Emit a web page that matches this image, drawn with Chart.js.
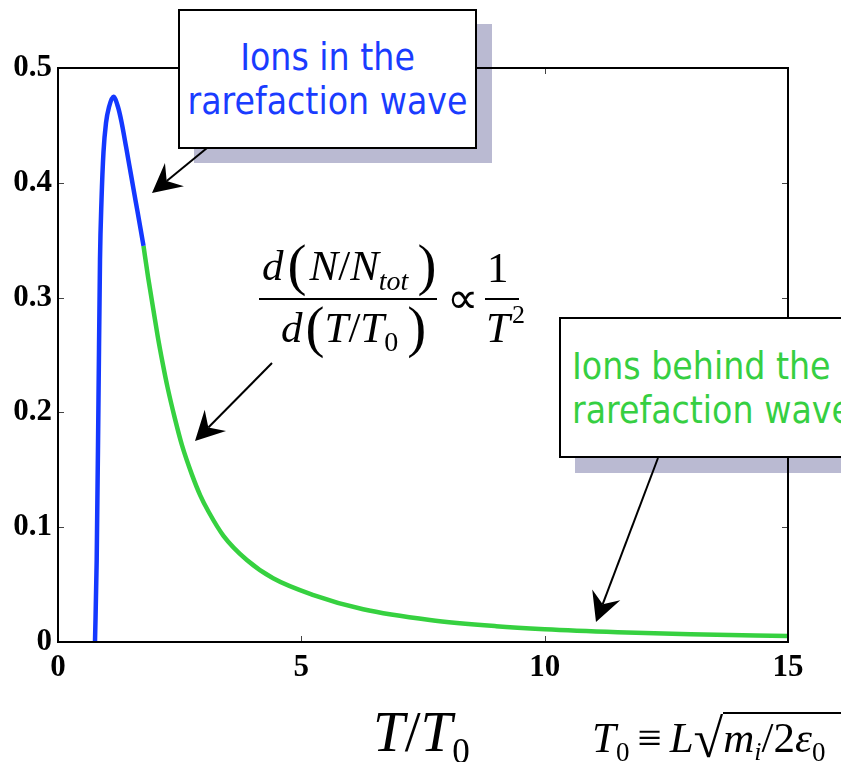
<!DOCTYPE html>
<html><head><meta charset="utf-8">
<script src="https://cdn.jsdelivr.net/npm/chart.js@4.4.0/dist/chart.umd.min.js"></script>
<style>
html,body{margin:0;padding:0;background:#fff;}
#wrap{position:relative;width:841px;height:762px;overflow:hidden;background:#fff;}
#c{position:absolute;left:0;top:0;z-index:1;}
.shadow{position:absolute;background:#babad2;z-index:0;}
.box{position:absolute;background:#fff;border:2px solid #000;z-index:3;box-sizing:border-box;}
.bt{position:absolute;font-family:"DejaVu Sans Condensed","DejaVu Sans",sans-serif;font-stretch:semi-condensed;font-size:37px;line-height:44px;white-space:nowrap;}
#arrows{position:absolute;left:0;top:0;z-index:2;}
.m{position:absolute;font-family:"Liberation Serif","Times New Roman",serif;white-space:nowrap;z-index:2;color:#000;line-height:1;}
.m i{font-style:italic;}
.par{font-size:57px;line-height:0;font-style:normal;vertical-align:-4px;}
.sub{font-size:28px;vertical-align:-10px;line-height:0;}
.bar{position:absolute;height:2px;background:#000;z-index:2;}
</style></head>
<body>
<div id="wrap">
<canvas id="c" width="841" height="762"></canvas>

<div class="shadow" style="left:194px;top:24px;width:298px;height:139px;"></div>
<div class="box" style="left:178px;top:9px;width:299px;height:140px;">
  <div class="bt" style="left:0;width:295px;text-align:center;top:25px;color:#1a3cff;">Ions in the</div>
  <div class="bt" style="left:0;width:295px;text-align:center;top:69px;color:#1a3cff;">rarefaction wave</div>
</div>

<div class="shadow" style="left:575px;top:332px;width:320px;height:141px;"></div>
<div class="box" style="left:559px;top:317px;width:320px;height:141px;">
  <div class="bt" style="left:11px;top:26px;color:#36cf42;">Ions behind the</div>
  <div class="bt" style="left:11px;top:70px;color:#36cf42;">rarefaction wave</div>
</div>

<svg id="arrows" width="841" height="762"></svg>

<!-- proportionality formula -->
<div class="m" style="left:262px;top:244px;font-size:43px;"><i>d</i><span class="par" style="margin-left:4px;">(</span><i style="margin-left:3px;">N</i>/<i>N</i><span class="sub"><i>tot</i></span><span class="par" style="margin-left:9px;">)</span></div>
<div class="bar" style="left:259px;top:298px;width:178px;"></div>
<div class="m" style="left:281px;top:306px;font-size:43px;"><i>d</i><span class="par" style="margin-left:3px;">(</span><i>T</i>/<i>T</i><span class="sub" style="vertical-align:-9px;">0</span><span class="par" style="margin-left:9px;">)</span></div>
<div class="m" style="left:447px;top:277px;font-size:44px;">∝</div>
<div class="m" style="left:487px;top:246px;font-size:43px;">1</div>
<div class="bar" style="left:485px;top:298px;width:34px;"></div>
<div class="m" style="left:486px;top:306px;font-size:43px;"><i>T</i><span style="font-size:26px;vertical-align:19px;line-height:0;margin-left:2px;">2</span></div>

<!-- axis title -->
<div class="m" style="left:373px;top:703px;font-size:57px;"><i>T</i>/<i>T</i><span style="font-size:35px;vertical-align:-12px;line-height:0;">0</span></div>

<!-- T0 definition -->
<div class="m" style="left:592px;top:716px;font-size:43px;"><i>T</i><span style="font-size:27px;vertical-align:-9px;line-height:0;">0</span><span style="margin:0 8px;">≡</span><i>L</i><span style="font-size:54px;line-height:0;vertical-align:-5px;">√</span><span style="border-top:2px solid #000;padding-right:20px;"><i>m</i><span style="font-size:26px;vertical-align:-8px;line-height:0;"><i>i</i></span>/2<i>ε</i><span style="font-size:27px;vertical-align:-9px;line-height:0;">0</span></span></div>
</div>

<script>
// Data
const blueX = [0.760, 0.795, 0.832, 0.863, 0.894, 0.935, 0.986, 1.048, 1.140, 1.233, 1.300, 1.400, 1.500, 1.600, 1.700, 1.757];
const blueY = [0.000, 0.071, 0.211, 0.333, 0.385, 0.427, 0.452, 0.466, 0.475, 0.466, 0.454, 0.431, 0.407, 0.383, 0.359, 0.345];
const greenX = [1.757, 1.85, 1.95, 2.05, 2.15, 2.25, 2.40, 2.55, 2.75, 2.92, 3.10, 3.40, 3.88, 4.42, 5.25, 6.27, 7.64, 9.0, 10.0, 11.5, 13.0, 15.0];
const greenY = [0.345, 0.318, 0.292, 0.266, 0.243, 0.222, 0.195, 0.171, 0.146, 0.128, 0.113, 0.0925, 0.0714, 0.0555, 0.0409, 0.0285, 0.0192, 0.0138, 0.0112, 0.0086, 0.0068, 0.0052];
const xTicks = [0, 5, 10, 15];
const yTicks = [0, 0.1, 0.2, 0.3, 0.4, 0.5];

const toPts = (xs, ys) => xs.map((x, i) => ({x, y: ys[i]}));

const framePlugin = {
  id: 'frame',
  afterDraw(chart) {
    const {ctx, chartArea: a, scales: {x, y}} = chart;
    ctx.save();
    ctx.strokeStyle = '#444'; ctx.lineWidth = 1;
    xTicks.forEach(v => {
      const px = Math.round(x.getPixelForValue(v)) + 0.5;
      ctx.beginPath();
      ctx.moveTo(px, a.bottom); ctx.lineTo(px, a.bottom - 6);
      ctx.moveTo(px, a.top); ctx.lineTo(px, a.top + 6);
      ctx.stroke();
    });
    yTicks.forEach(v => {
      const py = Math.round(y.getPixelForValue(v)) + 0.5;
      ctx.beginPath();
      ctx.moveTo(a.left, py); ctx.lineTo(a.left + 6, py);
      ctx.moveTo(a.right, py); ctx.lineTo(a.right - 6, py);
      ctx.stroke();
    });
    ctx.strokeStyle = '#000'; ctx.lineWidth = 2;
    ctx.strokeRect(a.left, a.top, a.right - a.left, a.bottom - a.top);
    ctx.restore();
  }
};

new Chart(document.getElementById('c'), {
  type: 'line',
  data: {
    datasets: [
      {data: toPts(blueX, blueY), borderColor: '#1438ff', borderWidth: 4.5, pointRadius: 0, cubicInterpolationMode: 'monotone', fill: false},
      {data: toPts(greenX, greenY), borderColor: '#36d140', borderWidth: 4.5, pointRadius: 0, cubicInterpolationMode: 'monotone', fill: false}
    ]
  },
  options: {
    responsive: false,
    animation: false,
    layout: {padding: {top: 68, right: 53, left: 0, bottom: 0}},
    plugins: {legend: {display: false}, tooltip: {enabled: false}},
    scales: {
      x: {
        type: 'linear', min: 0, max: 15,
        afterFit: s => { s.height = 120; },
        afterBuildTicks: s => { s.ticks = xTicks.map(v => ({value: v})); },
        grid: {display: false, drawTicks: false}, border: {display: false},
        ticks: {color: '#000', padding: 7, maxRotation: 0, font: {family: 'Liberation Serif', size: 31, weight: 'bold'}, callback: v => String(v)}
      },
      y: {
        min: 0, max: 0.5,
        afterFit: s => { s.width = 58; },
        afterBuildTicks: s => { s.ticks = yTicks.map(v => ({value: v})); },
        grid: {display: false, drawTicks: false}, border: {display: false},
        ticks: {color: '#000', padding: 6, font: {family: 'Liberation Serif', size: 31, weight: 'bold'}, callback: v => String(Math.round(v * 10) / 10)}
      }
    }
  },
  plugins: [framePlugin]
});

// annotation arrows
function arrow(x1, y1, tx, ty) {
  const L = 29, hw = 15, notch = 19;
  const dx = x1 - tx, dy = y1 - ty, d = Math.hypot(dx, dy);
  const ux = dx / d, uy = dy / d, nx = -uy, ny = ux;
  const b1 = [tx + ux * L + nx * hw, ty + uy * L + ny * hw];
  const b2 = [tx + ux * L - nx * hw, ty + uy * L - ny * hw];
  const n = [tx + ux * notch, ty + uy * notch];
  return `<line x1="${x1}" y1="${y1}" x2="${n[0]}" y2="${n[1]}" stroke="#000" stroke-width="2"/>` +
    `<polygon points="${tx},${ty} ${b1[0]},${b1[1]} ${n[0]},${n[1]} ${b2[0]},${b2[1]}" fill="#000"/>`;
}
document.getElementById('arrows').innerHTML =
  arrow(207, 148, 152, 193) + arrow(272, 363, 195, 441) + arrow(658, 458, 596, 622);
</script>
</body></html>
